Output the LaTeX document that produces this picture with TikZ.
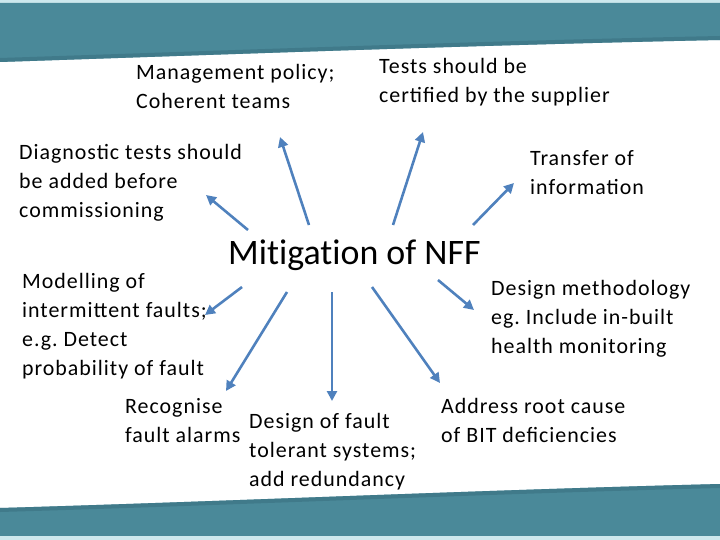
\documentclass[tikz,border=0pt]{standalone}
\usepackage{fontspec}
\setmainfont[LetterSpace=4.5]{Carlito}
\newfontfamily\titlefont[Ligatures=NoCommon]{Carlito}
\usepackage{tikz}
\usetikzlibrary{arrows.meta,positioning}
\definecolor{bandteal}{RGB}{74,137,153}
\definecolor{banddark}{RGB}{60,116,132}
\definecolor{bandlight}{RGB}{205,232,237}
\definecolor{arrblue}{RGB}{79,129,189}
\frenchspacing

\begin{document}
\begin{tikzpicture}[
  x=1bp,y=-1bp,
  txt/.style={anchor=north west,inner sep=0pt,align=left,font=\fontsize{22}{29}\selectfont},
  ttl/.style={anchor=north west,inner sep=0pt,font=\titlefont\fontsize{36}{44}\selectfont},
  arr/.style={draw=arrblue,line width=2.6bp,-{Triangle[length=10bp,width=10bp]}},
]
  \useasboundingbox (0,0) rectangle (720,540);
  % bands
  \fill[bandlight] (0,0) rectangle (720,3);
  \fill[bandteal] (0,3) -- (720,3) -- (720,40) .. controls (480,45) and (240,54) .. (0,62) -- cycle;
  \draw[banddark,line width=4bp,opacity=0.7] (720,38) .. controls (480,43) and (240,52) .. (0,60);
  \fill[bandteal] (0,508) .. controls (240,501) and (480,490) .. (720,484) -- (720,536) -- (0,536) -- cycle;
  \draw[banddark,line width=4bp,opacity=0.7] (0,510) .. controls (240,503) and (480,492) .. (720,486);
  \fill[bandlight] (0,536) rectangle (720,540);
  % texts
  \node[ttl] (nff) at (228,240) {Mitigation of NFF};
  \node[txt] (mgmt) at (136,64) {Management policy;\\Coherent teams};
  \node[txt] (cert) at (379,58) {Tests should be\\certified by the supplier};
  \node[txt] (diag) at (19,144) {Diagnostic tests should\\be added before\\commissioning};
  \node[txt] (trans) at (530,150) {Transfer of\\information};
  \node[txt] (model) at (22,273) {Modelling of\\intermittent faults;\\e.g. Detect\\probability of fault};
  \node[txt] (method) at (491,280) {Design methodology\\eg. Include in-built\\health monitoring};
  \node[txt] (recog) at (125,398) {Recognise\\fault alarms};
  \node[txt] (toler) at (249,413) {Design of fault\\tolerant systems;\\add redundancy};
  \node[txt] (addr) at (441,398) {Address root cause\\of BIT deficiencies};
  % arrow ends
  \coordinate (s1) at (248,230); \coordinate (e1) at (206,195);
  \coordinate (s2) at (309,225); \coordinate (e2) at (280,137);
  \coordinate (s3) at (393,225); \coordinate (e3) at (423,132);
  \coordinate (s4) at (473,225); \coordinate (e4) at (514,183);
  \coordinate (s5) at (242,287); \coordinate (e5) at (205,315);
  \coordinate (s6) at (287,292); \coordinate (e6) at (226,391);
  \coordinate (s7) at (332,292); \coordinate (e7) at (332,401);
  \coordinate (s8) at (372,287); \coordinate (e8) at (440,383);
  \coordinate (s9) at (438,280); \coordinate (e9) at (474,310);
  \foreach \i in {1,...,9} {
    \draw[arr] (s\i) -- (e\i);
  }
\end{tikzpicture}
\end{document}
